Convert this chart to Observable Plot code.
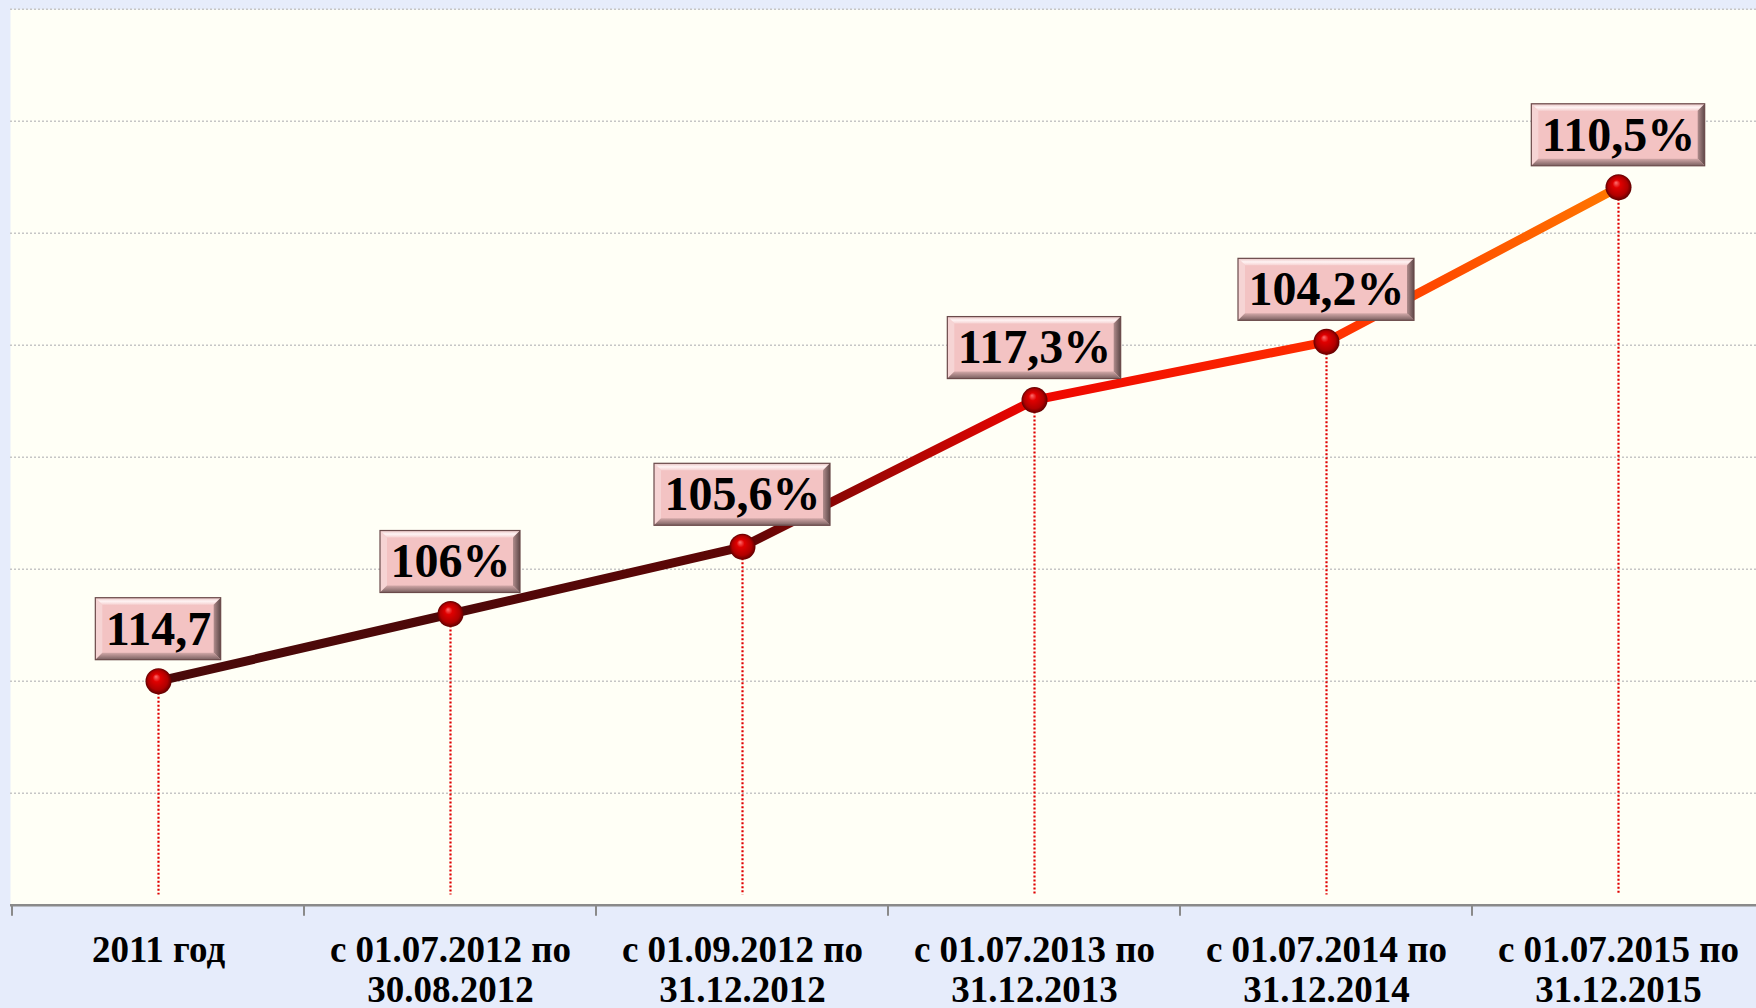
<!DOCTYPE html>
<html>
<head>
<meta charset="utf-8">
<script src="https://cdn.jsdelivr.net/npm/d3@7"></script>
<script src="https://cdn.jsdelivr.net/npm/@observablehq/plot@0.6"></script>
<style>
  html, body { margin: 0; padding: 0; background: #E6ECFB; overflow: hidden; }
  #chart svg { display: block; }
</style>
</head>
<body>
<div id="chart"></div>
<script>
// ---- data ----
const categories = [
  "2011 год",
  "с 01.07.2012 по\n30.08.2012",
  "с 01.09.2012 по\n31.12.2012",
  "с 01.07.2013 по\n31.12.2013",
  "с 01.07.2014 по\n31.12.2014",
  "с 01.07.2015 по\n31.12.2015"
];
const values = [40, 52, 64, 90.2, 100.6, 128.2];
const labels = ["114,7", "106%", "105,6%", "117,3%", "104,2%", "110,5%"];
const gridTicks = [20, 40, 60, 80, 100, 120, 140, 160];

// ---- styles ----
const FONT = "'Liberation Serif', 'Times New Roman', serif";
const lineStopColors = ["#4a0a0a", "#4e0808", "#5e0606", "#ee0500", "#ff2e00", "#ff7800"];
const LABEL_FONT_SIZE = 48;
const LABEL_DY = -52;

const data = categories.map((c, i) => ({category: c, value: values[i], label: labels[i]}));

function getScales(a, b) {
  if (a && typeof a.x === "function") return a;
  return b;
}

// gradient definitions + axis tick marks
function defsMark(a, b) {
  const scales = getScales(a, b);
  const x = scales.x;
  const g = d3.create("svg:g");
  const defs = g.append("defs");
  const x0 = x(categories[0]), x1 = x(categories[categories.length - 1]);
  const lg = defs.append("linearGradient").attr("id", "lineGrad")
    .attr("gradientUnits", "userSpaceOnUse")
    .attr("x1", x0).attr("x2", x1).attr("y1", 0).attr("y2", 0);
  categories.forEach((c, i) => {
    lg.append("stop").attr("offset", (x(c) - x0) / (x1 - x0)).attr("stop-color", lineStopColors[i]);
  });
  const rg = defs.append("radialGradient").attr("id", "ball")
    .attr("cx", "50%").attr("cy", "50%").attr("r", "50%").attr("fx", "40%").attr("fy", "32%");
  rg.append("stop").attr("offset", 0).attr("stop-color", "#ff7070");
  rg.append("stop").attr("offset", 0.3).attr("stop-color", "#e00000");
  rg.append("stop").attr("offset", 0.75).attr("stop-color", "#b00000");
  rg.append("stop").attr("offset", 1).attr("stop-color", "#600000");
  const tg = defs.append("linearGradient").attr("id", "bevelTop").attr("x1", 0).attr("x2", 0).attr("y1", 0).attr("y2", 1);
  tg.append("stop").attr("offset", 0).attr("stop-color", "#e8c2c2");
  tg.append("stop").attr("offset", 0.5).attr("stop-color", "#fff4f4");
  tg.append("stop").attr("offset", 1).attr("stop-color", "#f6d2d2");
  const bg = defs.append("linearGradient").attr("id", "bevelBottom").attr("x1", 0).attr("x2", 0).attr("y1", 0).attr("y2", 1);
  bg.append("stop").attr("offset", 0).attr("stop-color", "#d2a8a8");
  bg.append("stop").attr("offset", 1).attr("stop-color", "#7a6060");
  const rgd = defs.append("linearGradient").attr("id", "bevelRight").attr("x1", 0).attr("x2", 1).attr("y1", 0).attr("y2", 0);
  rgd.append("stop").attr("offset", 0).attr("stop-color", "#b08c8c");
  rgd.append("stop").attr("offset", 1).attr("stop-color", "#5e4848");

  // axis ticks at category boundaries
  const step = x(categories[1]) - x(categories[0]);
  const y0 = scales.y(0);
  const bounds = categories.map(c => x(c) - step / 2).concat([x1 + step / 2]);
  g.selectAll("line.tick").data(bounds).join("line")
    .attr("x1", d => d).attr("x2", d => d)
    .attr("y1", y0).attr("y2", y0 + 11)
    .attr("stroke", "#8a8a8a").attr("stroke-width", 2);
  return g.node();
}

// bevelled label boxes
const canvas = document.createElement("canvas");
const ctx = canvas.getContext("2d");
function boxesMark(a, b) {
  const scales = getScales(a, b);
  const g = d3.create("svg:g");
  ctx.font = `bold ${LABEL_FONT_SIZE}px ${FONT}`;
  const h = 62, bv = 7;
  data.forEach(d => {
    const w = ctx.measureText(d.label).width + 20;
    const cx = scales.x(d.category), cy = scales.y(d.value) + LABEL_DY;
    const bx = g.append("g").attr("transform", `translate(${cx - w / 2},${cy - h / 2})`);
    bx.append("rect").attr("width", w).attr("height", h).attr("fill", "#f3c3c3");
    bx.append("polygon").attr("points", `0,0 ${w},0 ${w - bv},${bv} ${bv},${bv}`).attr("fill", "url(#bevelTop)");
    bx.append("polygon").attr("points", `0,0 ${bv},${bv} ${bv},${h - bv} 0,${h}`).attr("fill", "#f6d4d4");
    bx.append("polygon").attr("points", `${w},0 ${w},${h} ${w - bv},${h - bv} ${w - bv},${bv}`).attr("fill", "url(#bevelRight)");
    bx.append("polygon").attr("points", `0,${h} ${w},${h} ${w - bv},${h - bv} ${bv},${h - bv}`).attr("fill", "url(#bevelBottom)");
    bx.append("rect").attr("width", w).attr("height", h).attr("fill", "none")
      .attr("stroke", "#6a4a4a").attr("stroke-width", 1.2);
  });
  return g.node();
}

const chart = Plot.plot({
  width: 1756,
  height: 1008,
  marginTop: 9,
  marginLeft: 10,
  marginRight: 0,
  marginBottom: 103,
  style: {background: "#E6ECFB", fontFamily: FONT},
  x: {type: "point", domain: categories, range: [10, 1765], padding: 0.5, axis: null},
  y: {domain: [0, 160], range: [904.7, 8.7], axis: null},
  marks: [
    Plot.frame({fill: "#FFFFF6", stroke: null}),
    defsMark,
    Plot.ruleY(gridTicks, {stroke: "#c6c6c6", strokeWidth: 1.5, strokeDasharray: "2,2"}),
    Plot.ruleY([0], {stroke: "#8a8a8a", strokeWidth: 2.5}),
    Plot.text(categories, {
      x: d => d, text: d => d, frameAnchor: "bottom", lineAnchor: "top", dy: 28,
      fontSize: 37, fontWeight: "bold", lineHeight: 1.08, fill: "#000", fontFamily: FONT
    }),
    Plot.ruleX(data, {x: "category", y1: "value", y2: 1.8, stroke: "#e00000", strokeWidth: 2.2, strokeDasharray: "2,2"}),
    Plot.line(data, {x: "category", y: "value", stroke: "url(#lineGrad)", strokeWidth: 9, strokeLinejoin: "round"}),
    Plot.dot(data, {x: "category", y: "value", r: 13, fill: "url(#ball)", stroke: "none"}),
    boxesMark,
    Plot.text(data, {
      x: "category", y: "value", text: "label", dy: LABEL_DY,
      fontSize: LABEL_FONT_SIZE, fontWeight: "bold", fill: "#000", fontFamily: FONT
    })
  ]
});
document.getElementById("chart").appendChild(chart);
</script>
</body>
</html>
